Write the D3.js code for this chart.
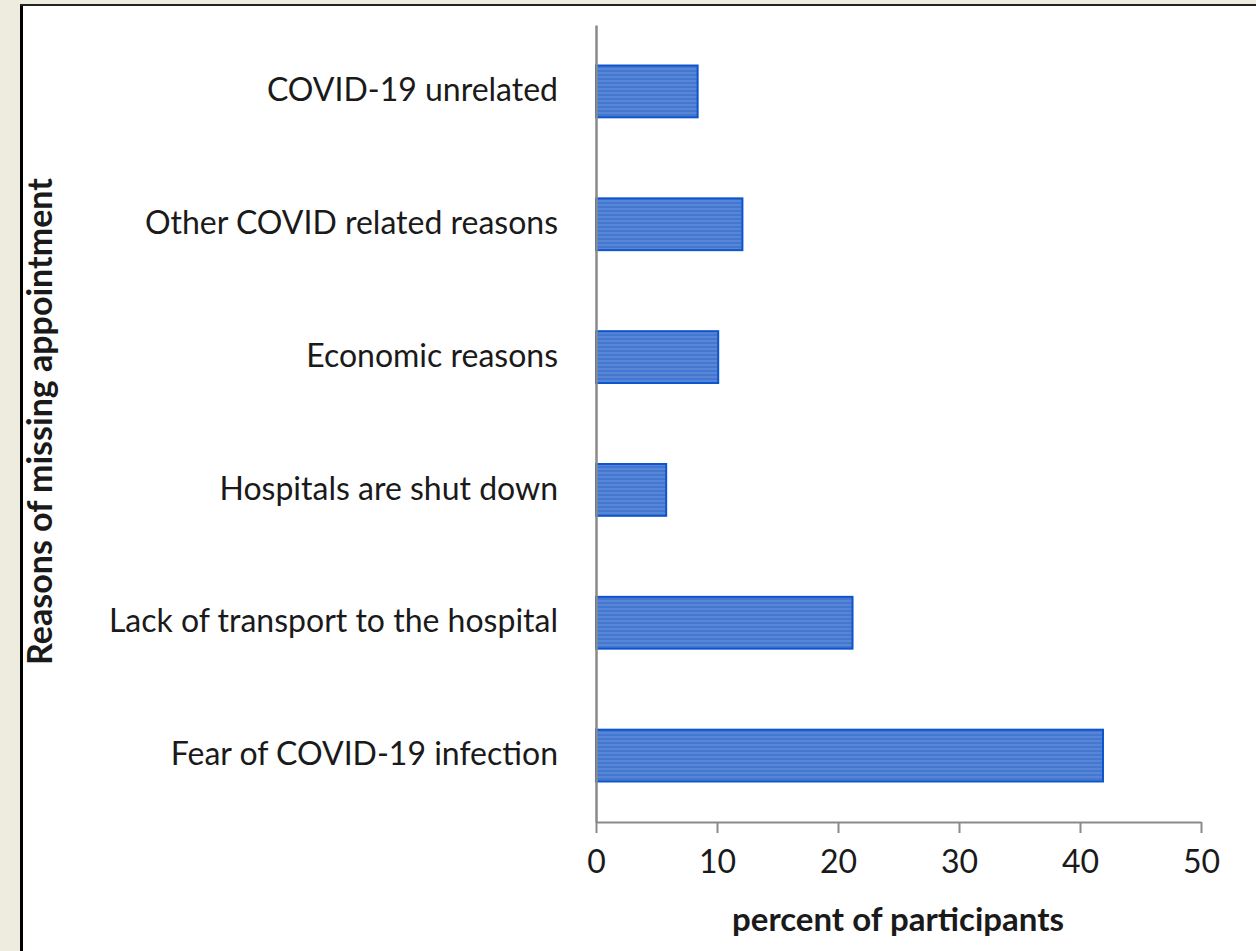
<!DOCTYPE html>
<html>
<head>
<meta charset="utf-8">
<script src="https://cdn.jsdelivr.net/npm/d3@7"></script>
<style>
  body { margin: 0; background: #eeebdf; }
  svg { display: block; }
  text { font-family: Lato, "Open Sans", sans-serif; fill: #1a1a1a; }
</style>
</head>
<body>
<div id="chart"></div>
<script>
// Reasons of missing appointment — horizontal bar chart

const categories = [
    'COVID-19 unrelated',
    'Other COVID related reasons',
    'Economic reasons',
    'Hospitals are shut down',
    'Lack of transport to the hospital',
    'Fear of COVID-19 infection'
];
const values = [8.4, 12.1, 10.1, 5.8, 21.2, 41.9];
const xTicks = [0, 10, 20, 30, 40, 50];

const width = 1256, height = 951;
const plot = { left: 596, right: 1201, top: 25, bottom: 822 };

const svg = d3.select('#chart')
    .append('svg')
    .attr('width', width)
    .attr('height', height);

// frame: beige page, white panel with dark left/top edge
svg.append('rect')
    .attr('width', width).attr('height', height)
    .attr('fill', '#eeebdf');
svg.append('rect')
    .attr('x', 21).attr('y', 5)
    .attr('width', width - 21).attr('height', height - 5)
    .attr('fill', '#ffffff');
svg.append('line')
    .attr('x1', 21.5).attr('x2', 21.5).attr('y1', 4).attr('y2', height)
    .attr('stroke', '#000').attr('stroke-width', 3);
svg.append('line')
    .attr('x1', 20).attr('x2', width).attr('y1', 5).attr('y2', 5)
    .attr('stroke', '#222').attr('stroke-width', 2);

// striped fill for the bars
const defs = svg.append('defs');
const pat = defs.append('pattern')
    .attr('id', 'stripes')
    .attr('patternUnits', 'userSpaceOnUse')
    .attr('width', 8).attr('height', 4);
pat.append('rect').attr('width', 8).attr('height', 4).attr('fill', '#5686d6');
pat.append('rect').attr('y', 2).attr('width', 8).attr('height', 2).attr('fill', '#4576d0');

// Scales
const xScale = d3.scaleLinear()
    .domain([0, 50])
    .range([plot.left, plot.right]);

const yScale = d3.scaleBand()
    .domain(categories)
    .range([plot.top, plot.bottom])
    .paddingInner(0.61)
    .paddingOuter(0.305);

// Bars
svg.selectAll('.bar')
    .data(categories)
    .join('rect')
    .attr('class', 'bar')
    .attr('x', xScale(0))
    .attr('y', d => yScale(d))
    .attr('width', (d, i) => xScale(values[i]) - xScale(0))
    .attr('height', yScale.bandwidth())
    .attr('fill', 'url(#stripes)')
    .attr('stroke', '#0d55cf')
    .attr('stroke-width', 2);

// X axis
const xAxis = svg.append('g')
    .attr('transform', `translate(0,${plot.bottom})`)
    .call(d3.axisBottom(xScale).tickValues(xTicks).tickSize(11).tickSizeOuter(0).tickPadding(17));
xAxis.select('.domain').attr('stroke', '#8a8a8a').attr('stroke-width', 2);
xAxis.selectAll('.tick line').attr('stroke', '#8a8a8a').attr('stroke-width', 2);
xAxis.selectAll('.tick text')
    .style('font-size', '32px')
    .style('font-family', 'Lato, sans-serif')
    .attr('fill', '#1a1a1a');

// Y axis (line only) with category labels
const yAxis = svg.append('g')
    .attr('transform', `translate(${plot.left},0)`)
    .call(d3.axisLeft(yScale).tickSize(0).tickPadding(38));
yAxis.select('.domain').attr('stroke', '#8a8a8a').attr('stroke-width', 2.5);
yAxis.selectAll('.tick text')
    .style('font-size', '32px')
    .style('font-family', 'Lato, sans-serif')
    .attr('dy', '0.3em')
    .attr('fill', '#1a1a1a');

// Axis titles
svg.append('text')
    .attr('x', 898)
    .attr('y', 931)
    .attr('text-anchor', 'middle')
    .style('font-size', '33px')
    .style('font-weight', '700')
    .text('percent of participants');

svg.append('text')
    .attr('transform', `translate(52,${(plot.top + plot.bottom) / 2 - 2}) rotate(-90)`)
    .attr('text-anchor', 'middle')
    .style('font-size', '34px')
    .style('font-weight', '700')
    .text('Reasons of missing appointment');
</script>
</body>
</html>
